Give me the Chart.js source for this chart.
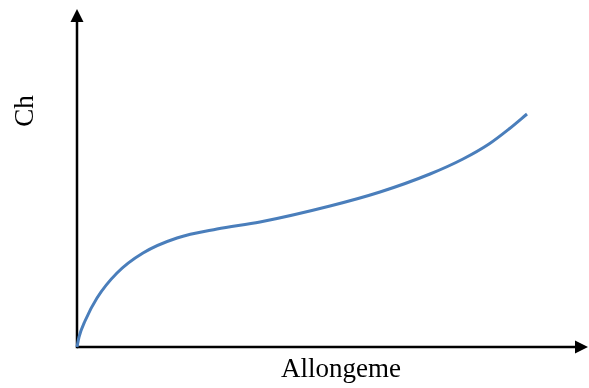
<!DOCTYPE html>
<html>
<head>
<meta charset="utf-8">
<script src="https://cdn.jsdelivr.net/npm/chart.js@4"></script>
<style>
  html, body { margin: 0; padding: 0; background: #fff; }
  canvas { display: block; }
</style>
</head>
<body>
<canvas id="curveChart" width="589" height="388"></canvas>
<script>
// Curve values (arbitrary units)
const allongement = [0, 2, 8, 20, 40, 66, 100, 140, 183, 253, 303, 353, 386, 412, 432, 450];
const charge      = [0, 10, 26, 49, 74, 94, 109, 118, 125, 141, 155, 173, 188, 203, 218, 233];

const xTitle = 'Allongeme';
const yTitle = 'Ch';

// Axes with arrow heads plus the two axis titles
const axesPlugin = {
    id: 'arrowAxes',
    beforeDatasetsDraw(chart) {
        const ctx = chart.ctx;
        const area = chart.chartArea;
        const head = 13;
        const half = 6.5;
        ctx.save();
        ctx.strokeStyle = '#000';
        ctx.fillStyle = '#000';
        ctx.lineWidth = 2.5;

        // x axis
        ctx.beginPath();
        ctx.moveTo(area.left, area.bottom);
        ctx.lineTo(area.right - head + 1, area.bottom);
        ctx.stroke();
        ctx.beginPath();
        ctx.moveTo(area.right, area.bottom);
        ctx.lineTo(area.right - head, area.bottom - half);
        ctx.lineTo(area.right - head, area.bottom + half);
        ctx.closePath();
        ctx.fill();

        // y axis
        ctx.beginPath();
        ctx.moveTo(area.left, area.bottom + 1.2);
        ctx.lineTo(area.left, area.top + head - 1);
        ctx.stroke();
        ctx.beginPath();
        ctx.moveTo(area.left, area.top);
        ctx.lineTo(area.left - half, area.top + head);
        ctx.lineTo(area.left + half, area.top + head);
        ctx.closePath();
        ctx.fill();

        // titles
        ctx.font = '27px "Liberation Serif", "Times New Roman", serif';
        ctx.textAlign = 'center';
        ctx.textBaseline = 'alphabetic';
        ctx.fillText(xTitle, 341, 377);

        ctx.translate(33, 111);
        ctx.rotate(-Math.PI / 2);
        ctx.fillText(yTitle, 0, 0);
        ctx.restore();
    }
};

const points = allongement.map((x, i) => ({ x: x, y: charge[i] }));

new Chart(document.getElementById('curveChart'), {
    type: 'scatter',
    data: {
        datasets: [{
            data: points,
            showLine: true,
            borderColor: '#4a7ebb',
            borderWidth: 3,
            pointRadius: 0,
            cubicInterpolationMode: 'monotone',
            clip: false
        }]
    },
    options: {
        responsive: false,
        animation: false,
        events: [],
        layout: {
            padding: { left: 77, right: 1, top: 9, bottom: 41 }
        },
        plugins: {
            legend: { display: false },
            tooltip: { enabled: false }
        },
        scales: {
            x: { type: 'linear', display: false, min: 0, max: 511 },
            y: { type: 'linear', display: false, min: 0, max: 338 }
        }
    },
    plugins: [axesPlugin]
});
</script>
</body>
</html>
